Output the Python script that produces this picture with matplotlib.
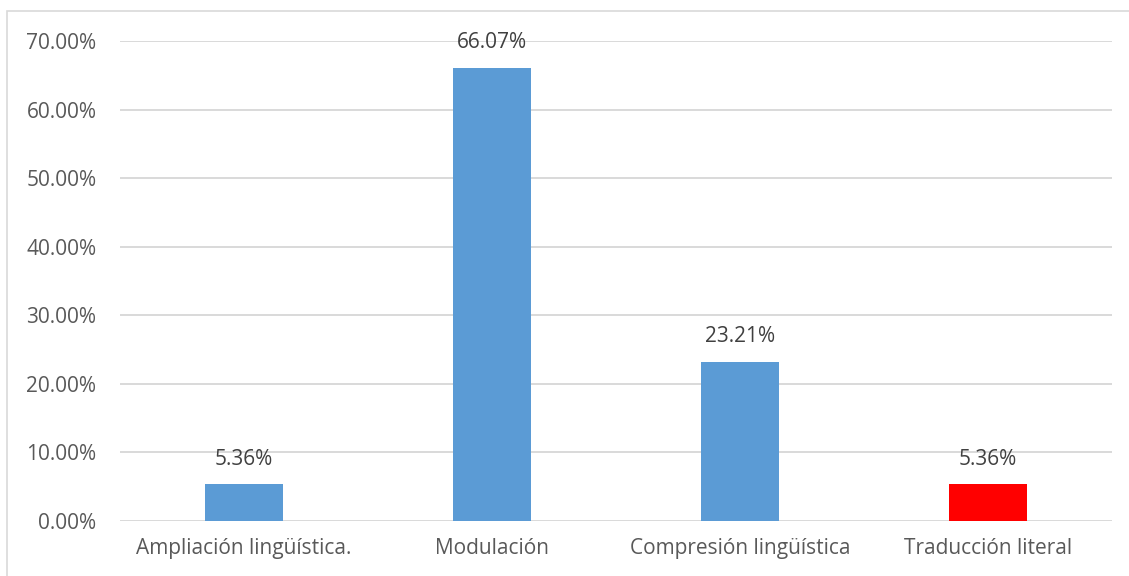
import matplotlib
matplotlib.use("Agg")
import matplotlib.pyplot as plt
from matplotlib.patches import Rectangle
from matplotlib.ticker import FuncFormatter, MultipleLocator

# data
categories = ["Ampliación lingüística.", "Modulación", "Compresión lingüística", "Traducción literal"]
values = [0.0536, 0.6607, 0.2321, 0.0536]
bar_colors = ["#5B9BD5", "#5B9BD5", "#5B9BD5", "#FF0000"]

plt.rcParams['font.family'] = ['Open Sans', 'DejaVu Sans']

W, H = 1129, 576
fig = plt.figure(figsize=(W / 100, H / 100), dpi=100)
ax = fig.add_axes([120 / W, 1 - 521 / H, (1112 - 120) / W, (521 - 41) / H])

x = range(len(categories))
bars = ax.bar(x, values, width=0.315, color=bar_colors, zorder=3)

for rect, v in zip(bars, values):
    ax.annotate(f"{v * 100:.2f}%", (rect.get_x() + rect.get_width() / 2, v),
                xytext=(0, 10.5), textcoords="offset points",
                ha="center", va="bottom", fontsize=15, color="#404040")

ax.set_xlim(-0.5, len(categories) - 0.5)
ax.set_ylim(0, 0.70)
ax.yaxis.set_major_locator(MultipleLocator(0.10))
ax.yaxis.set_major_formatter(FuncFormatter(lambda v, _: f"{v * 100:.2f}%"))
ax.set_xticks(list(x))
ax.set_xticklabels(categories)
ax.tick_params(axis="both", length=0, labelsize=15, labelcolor="#595959")
ax.tick_params(axis="x", pad=12)
ax.tick_params(axis="y", pad=17)

ax.grid(axis="y", color="#D9D9D9", linewidth=1.4, zorder=0)
for s in ax.spines.values():
    s.set_visible(False)

# chart-area border (only top and left show in the crop)
fig.patches.append(Rectangle((7 / W, -0.1), 1.2, 1 - 11 / H + 0.1,
                             transform=fig.transFigure, fill=False,
                             edgecolor="#D9D9D9", linewidth=1.2))

fig.savefig("out.png", dpi=100)
